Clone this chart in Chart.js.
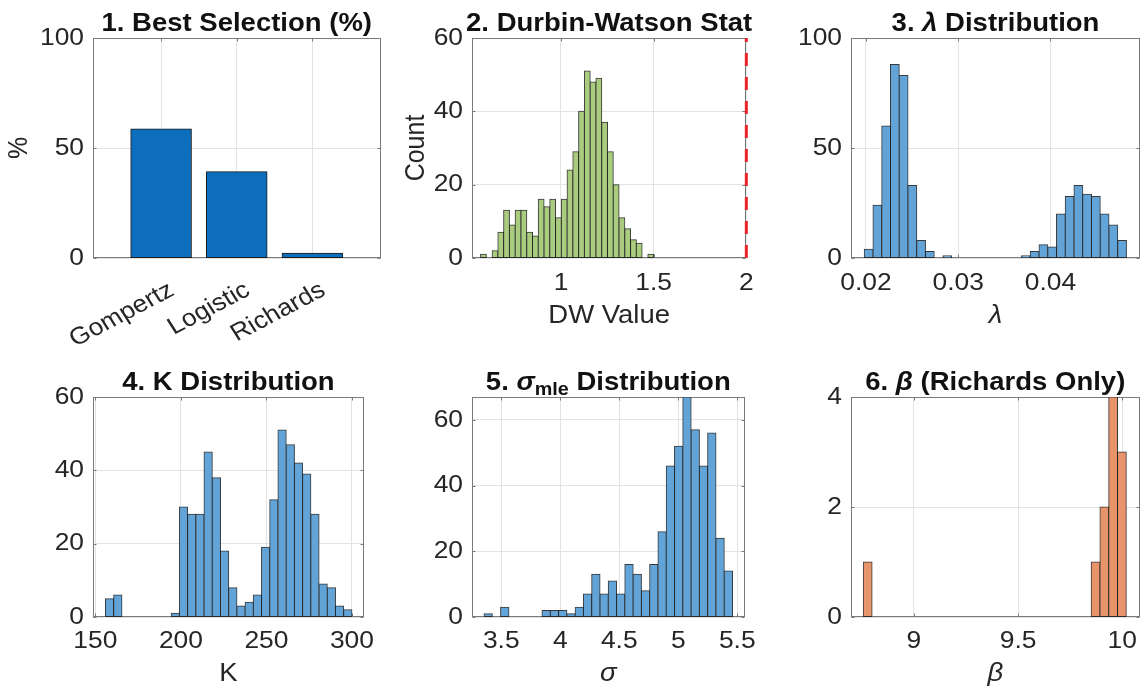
<!DOCTYPE html>
<html>
<head>
<meta charset="utf-8">
<script src="https://cdn.jsdelivr.net/npm/chart.js@4.4.1/dist/chart.umd.min.js"></script>
<style>
  html, body { margin: 0; padding: 0; background: #fff; overflow: hidden; }
  #fig { position: absolute; left: 0; top: 0; width: 1146px; height: 693px; }
  .cell { position: absolute; }
</style>
</head>
<body>
<div id="fig"></div>
<script>
// ---- Panel 1: share of runs where each model was best (%) ----
const modelNames = ['Gompertz', 'Logistic', 'Richards'];
const bestPct = [58.6, 39.2, 2.2];

// ---- Panel 2: Durbin-Watson statistic histogram (30 bins) ----
const dwBinStart = 0.5663;
const dwBinWidth = 0.03112;
const dwCounts = [1, 0, 2, 7, 13, 9, 13, 13, 7, 6, 16, 14, 16, 11, 16,
                  24, 29, 40, 51, 48, 49, 37, 29, 20, 11, 8, 5, 4, 0, 1];
const dwReference = 2;

// ---- Panel 3: lambda histogram ----
const lambdaBinStart = 0.01982;
const lambdaBinWidth = 0.000947;
const lambdaCounts = [4, 24, 60, 88, 83, 33, 8, 3, 0, 1, 0, 0, 0, 0, 0,
                      0, 0, 0, 1, 3, 6, 5, 20, 28, 33, 29, 28, 20, 15, 8];

// ---- Panel 4: K histogram ----
const kBinStart = 155.9;
const kBinWidth = 4.803;
const kCounts = [5, 6, 0, 0, 0, 0, 0, 0, 1, 30, 28, 28, 45, 38, 18,
                 8, 3, 4, 6, 19, 32, 51, 47, 42, 39, 28, 9, 8, 3, 2];

// ---- Panel 5: sigma_mle histogram ----
const sigmaBinStart = 3.354;
const sigmaBinWidth = 0.0702;
const sigmaCounts = [1, 0, 3, 0, 0, 0, 0, 2, 2, 2, 1, 3, 7, 13, 7,
                     11, 7, 16, 13, 8, 16, 26, 46, 52, 67, 57, 46, 56, 24, 14];

// ---- Panel 6: beta histogram (Richards fits only) ----
const betaBinStart = 8.757;
const betaBinWidth = 0.04207;
const betaCounts = [1, 0, 0, 0, 0, 0, 0, 0, 0, 0, 0, 0, 0, 0, 0,
                    0, 0, 0, 0, 0, 0, 0, 0, 0, 0, 0, 1, 2, 4, 3];

// ---- Axis ticks ----
const p1XTicks = [1, 2, 3];
const p1YTicks = [0, 50, 100];
const p2XTicks = [1, 1.5, 2];
const p2YTicks = [0, 20, 40, 60];
const p3XTicks = [0.02, 0.03, 0.04];
const p3YTicks = [0, 50, 100];
const p4XTicks = [150, 200, 250, 300];
const p4YTicks = [0, 20, 40, 60];
const p5XTicks = [3.5, 4, 4.5, 5, 5.5];
const p5YTicks = [0, 20, 40, 60];
const p6XTicks = [9, 9.5, 10];
const p6YTicks = [0, 2, 4];

// ---- Styling ----
const FONT = "'Liberation Sans', Arial, Helvetica, sans-serif";
const TEXT = '#262626';
const GRID = '#e3e3e3';
const BOX = '#7a7a7a';
const EDGE = 'rgba(35,35,35,0.9)';
const TICK_SIZE = 24;
const LABEL_SIZE = 25;
const TITLE_SIZE = 25;
const TEXT_STRETCH = 1.1;   // glyphs are drawn slightly wide

// grid cells
const COLS = [
  { x: 0,   w: 382, plotL: 93, padR: 1.5 },
  { x: 382, w: 382, plotL: 90, padR: 3 },
  { x: 764, w: 382, plotL: 87, padR: 6 }
];
const ROWS = [
  { y: 0,   h: 346, top: 38, axisH: 88, tickPad: 11, titlePad: 15 },
  { y: 346, h: 347, top: 51, axisH: 76, tickPad: 10, titlePad: 4 }
];

// widen every glyph run horizontally (in page space) around its anchor point
function widenText(ctx) {
  const fill = ctx.fillText;
  ctx.fillText = function (text, x, y) {
    const m = this.getTransform();
    const p = m.transformPoint(new DOMPoint(x, y));
    this.save();
    this.setTransform(new DOMMatrix()
      .translate(p.x, p.y).scale(TEXT_STRETCH, 1).translate(-p.x, -p.y).multiply(m));
    fill.call(this, text, x, y);
    this.restore();
  };
}

// histogram bars: one bar per bin, centred in the bin
function histPoints(start, width, counts) {
  return counts.map((c, i) => ({ x: start + width * (i + 0.5), y: c > 0 ? c : null }));
}

// axes box with inward tick marks
const framePlugin = {
  id: 'frame',
  beforeDatasetsDraw(chart) {
    const { ctx, chartArea: a } = chart;
    const xs = chart.scales.x, ys = chart.scales.y;
    const L = Math.round(a.left) + 0.5, R = Math.round(a.right) - 0.5;
    const T = Math.round(a.top) + 0.5, B = Math.round(a.bottom) - 0.5;
    const tl = 3;
    ctx.save();
    ctx.strokeStyle = BOX;
    ctx.lineWidth = 1;
    ctx.beginPath();
    xs.ticks.forEach(t => {
      const p = Math.round(xs.getPixelForValue(t.value)) + 0.5;
      ctx.moveTo(p, B); ctx.lineTo(p, B - tl);
      ctx.moveTo(p, T); ctx.lineTo(p, T + tl);
    });
    ys.ticks.forEach(t => {
      const p = Math.round(ys.getPixelForValue(t.value)) + 0.5;
      ctx.moveTo(L, p); ctx.lineTo(L + tl, p);
      ctx.moveTo(R, p); ctx.lineTo(R - tl, p);
    });
    ctx.stroke();
    ctx.strokeRect(L, T, R - L, B - T);
    ctx.restore();
  }
};

// panel title made of styled runs (bold, italic symbols, subscripts)
const richTitlePlugin = {
  id: 'richTitle',
  afterDraw(chart, args, opts) {
    const runs = opts.runs;
    if (!runs || !runs.length) return;
    const { ctx, chartArea: a } = chart;
    const fontOf = r => (r.italic ? 'italic ' : '') + 'bold ' +
      (r.sub ? Math.round(TITLE_SIZE * 0.7) : TITLE_SIZE) + 'px ' + FONT;
    const widths = runs.map(r => { ctx.font = fontOf(r); return ctx.measureText(r.text).width * TEXT_STRETCH; });
    const total = widths.reduce((s, w) => s + w, 0);
    let x = (a.left + a.right) / 2 - total / 2;
    const base = a.top - opts.gap;
    ctx.save();
    ctx.fillStyle = '#111';
    ctx.textAlign = 'left';
    ctx.textBaseline = 'alphabetic';
    runs.forEach((r, i) => {
      ctx.font = fontOf(r);
      ctx.fillText(r.text, x, base + (r.sub ? 5 : 0));
      x += widths[i];
    });
    ctx.restore();
  }
};

function makePanel(p) {
  const col = COLS[p.col], row = ROWS[p.row];
  const cell = document.createElement('div');
  cell.className = 'cell';
  cell.style.left = col.x + 'px';
  cell.style.top = row.y + 'px';
  cell.style.width = col.w + 'px';
  cell.style.height = row.h + 'px';
  const canvas = document.createElement('canvas');
  cell.appendChild(canvas);
  document.getElementById('fig').appendChild(cell);
  widenText(canvas.getContext('2d'));

  const xTitle = p.xTitle
    ? { display: true, text: p.xTitle, color: TEXT,
        font: { family: FONT, size: LABEL_SIZE, style: p.xTitleItalic ? 'italic' : 'normal' },
        padding: { top: 0, bottom: row.titlePad } }
    : { display: false };
  const yTitle = p.yTitle
    ? { display: true, text: p.yTitle, color: TEXT,
        font: { family: FONT, size: LABEL_SIZE }, padding: { top: p.yTitlePad, bottom: 0 } }
    : { display: false };

  new Chart(canvas, {
    type: 'bar',
    data: { datasets: p.datasets },
    plugins: [framePlugin, richTitlePlugin],
    options: {
      responsive: true,
      maintainAspectRatio: false,
      animation: false,
      devicePixelRatio: 1,
      layout: { autoPadding: false, padding: { left: 0, top: row.top, right: col.padR, bottom: 0 } },
      plugins: {
        legend: { display: false },
        tooltip: { enabled: false },
        richTitle: { runs: p.title, gap: 7 }
      },
      scales: {
        x: {
          type: 'linear', min: p.xMin, max: p.xMax, offset: false,
          grid: { offset: false, color: GRID, drawTicks: false, lineWidth: 1 },
          border: { display: false },
          ticks: {
            color: TEXT, font: { family: FONT, size: TICK_SIZE },
            padding: p.tickPad !== undefined ? p.tickPad : row.tickPad,
            autoSkip: false, minRotation: p.rot || 0, maxRotation: p.rot || 0,
            labelOffset: p.labelShift || 0,
            callback: p.xLabel || (v => String(v))
          },
          afterBuildTicks: s => { s.ticks = p.xTicks.map(v => ({ value: v })); },
          afterFit: s => { s.height = row.axisH; },
          title: xTitle
        },
        y: {
          type: 'linear', min: 0, max: p.yMax,
          grid: { color: GRID, drawTicks: false, lineWidth: 1 },
          border: { display: false },
          ticks: { color: TEXT, font: { family: FONT, size: TICK_SIZE }, padding: 9,
                   callback: v => String(v) },
          afterBuildTicks: s => { s.ticks = p.yTicks.map(v => ({ value: v })); },
          afterFit: s => { s.width = col.plotL; },
          title: yTitle
        }
      }
    }
  });
}

function histDataset(start, width, counts, fill) {
  return {
    type: 'bar',
    data: histPoints(start, width, counts),
    backgroundColor: fill,
    borderColor: EDGE,
    borderWidth: 1,
    borderSkipped: false,
    inflateAmount: 0.5,
    categoryPercentage: 1,
    barPercentage: 1
  };
}

const BLUE_HIST = '#62a4d8';
const GREEN_HIST = '#a9cc7e';
const ORANGE_HIST = '#e8946b';

makePanel({
  col: 0, row: 0,
  title: [{ text: '1. Best Selection (%)' }],
  xMin: 0.1, xMax: 3.9, xTicks: p1XTicks, rot: 30, labelShift: 11, tickPad: 18,
  xLabel: v => modelNames[v - 1],
  yMax: 100, yTicks: p1YTicks, yTitle: '%', yTitlePad: 4,
  datasets: [{
    type: 'bar',
    data: bestPct.map((v, i) => ({ x: i + 1, y: v })),
    backgroundColor: '#0c6ebd',
    borderColor: '#1b1b1b',
    borderWidth: 1,
    borderSkipped: false,
    inflateAmount: 0.5,
    categoryPercentage: 0.8,
    barPercentage: 1
  }]
});

makePanel({
  col: 1, row: 0,
  title: [{ text: '2. Durbin-Watson Stat' }],
  xMin: 0.52, xMax: 2, xTicks: p2XTicks, xTitle: 'DW Value',
  yMax: 60, yTicks: p2YTicks, yTitle: 'Count', yTitlePad: 19,
  datasets: [
    histDataset(dwBinStart, dwBinWidth, dwCounts, GREEN_HIST),
    {
      type: 'line',
      data: [{ x: dwReference, y: 0 }, { x: dwReference, y: 60 }],
      borderColor: 'rgb(238,34,42)',
      borderWidth: 3,
      borderDash: [13, 11],
      pointRadius: 0,
      clip: false
    }
  ]
});

makePanel({
  col: 2, row: 0,
  title: [{ text: '3. ' }, { text: 'λ', italic: true }, { text: ' Distribution' }],
  xMin: 0.01838, xMax: 0.0497, xTicks: p3XTicks, xTitle: 'λ', xTitleItalic: true,
  yMax: 100, yTicks: p3YTicks,
  datasets: [histDataset(lambdaBinStart, lambdaBinWidth, lambdaCounts, BLUE_HIST)]
});

makePanel({
  col: 0, row: 1,
  title: [{ text: '4. K Distribution' }],
  xMin: 148.6, xMax: 307, xTicks: p4XTicks, xTitle: 'K',
  yMax: 60, yTicks: p4YTicks,
  datasets: [histDataset(kBinStart, kBinWidth, kCounts, BLUE_HIST)]
});

makePanel({
  col: 1, row: 1,
  title: [{ text: '5. ' }, { text: 'σ', italic: true }, { text: 'mle', sub: true }, { text: ' Distribution' }],
  xMin: 3.252, xMax: 5.562, xTicks: p5XTicks, xTitle: 'σ', xTitleItalic: true,
  yMax: 67, yTicks: p5YTicks,
  datasets: [histDataset(sigmaBinStart, sigmaBinWidth, sigmaCounts, BLUE_HIST)]
});

makePanel({
  col: 2, row: 1,
  title: [{ text: '6. ' }, { text: 'β', italic: true }, { text: ' (Richards Only)' }],
  xMin: 8.698, xMax: 10.083, xTicks: p6XTicks, xTitle: 'β', xTitleItalic: true,
  yMax: 4, yTicks: p6YTicks,
  datasets: [histDataset(betaBinStart, betaBinWidth, betaCounts, ORANGE_HIST)]
});
</script>
</body>
</html>
